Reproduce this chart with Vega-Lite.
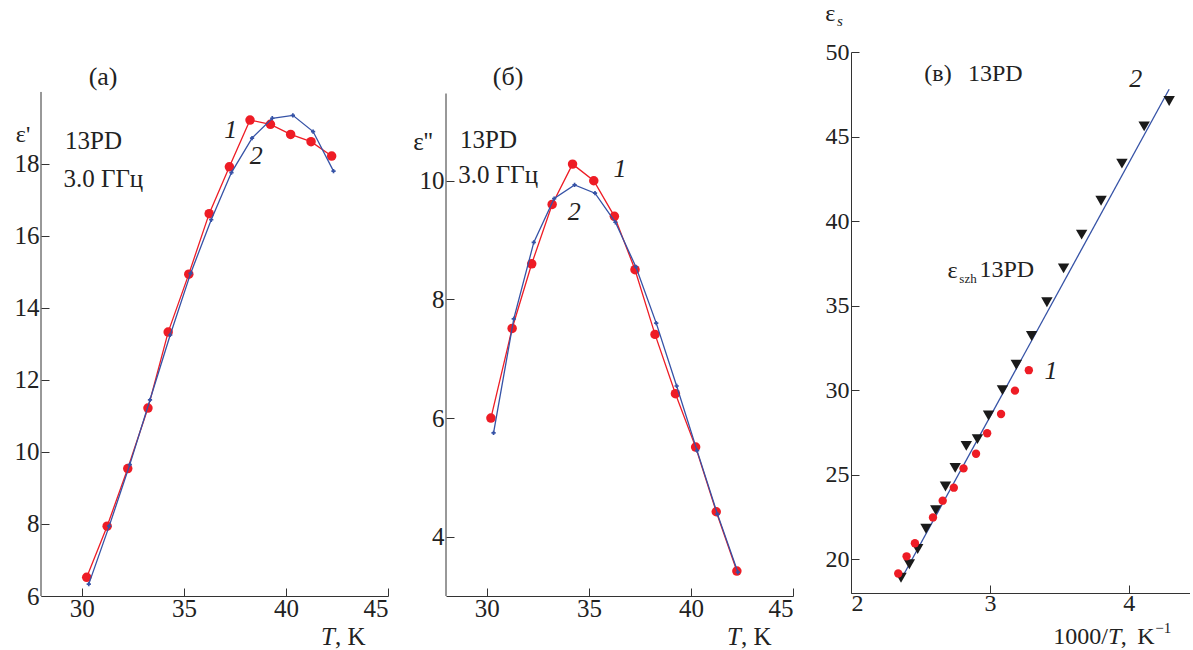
{
  "$schema": "https://vega.github.io/schema/vega-lite/v6.json",
  "background": "white",
  "padding": {"left": 14, "top": 1, "right": 0, "bottom": 0},
  "bounds": "flush",
  "spacing": 58,
  "config": {
    "font": "Liberation Serif",
    "view": {"stroke": null},
    "axis": {
      "grid": false,
      "title": null,
      "domainColor": "#333",
      "tickColor": "#333",
      "labelColor": "#222",
      "labelFont": "Liberation Serif",
      "labelFontSize": 25,
      "tickSize": -8,
      "labelPadding": 10,
      "format": "~g"
    },
    "text": {"font": "Liberation Serif", "fontSize": 25, "color": "#222"}
  },
  "datasets": {
    "one": [{}],
    "a_red": [
      {"T": 30.24, "v": 6.52}, {"T": 31.24, "v": 7.94}, {"T": 32.25, "v": 9.54}, {"T": 33.24, "v": 11.22},
      {"T": 34.23, "v": 13.33}, {"T": 35.24, "v": 14.94}, {"T": 36.24, "v": 16.62}, {"T": 37.23, "v": 17.92},
      {"T": 38.24, "v": 19.22}, {"T": 39.24, "v": 19.1}, {"T": 40.23, "v": 18.82}, {"T": 41.23, "v": 18.62},
      {"T": 42.24, "v": 18.22}
    ],
    "a_blue": [
      {"T": 30.34, "v": 6.33}, {"T": 31.34, "v": 7.94}, {"T": 32.35, "v": 9.65}, {"T": 33.34, "v": 11.45},
      {"T": 34.33, "v": 13.25}, {"T": 35.33, "v": 14.96}, {"T": 36.34, "v": 16.45}, {"T": 37.33, "v": 17.76},
      {"T": 38.34, "v": 18.72}, {"T": 39.33, "v": 19.27}, {"T": 40.34, "v": 19.35}, {"T": 41.33, "v": 18.9},
      {"T": 42.33, "v": 17.8}
    ],
    "b_red": [
      {"T": 30.2, "v": 6.0}, {"T": 31.24, "v": 7.51}, {"T": 32.2, "v": 8.6}, {"T": 33.2, "v": 9.6},
      {"T": 34.2, "v": 10.28}, {"T": 35.24, "v": 10.0}, {"T": 36.25, "v": 9.4}, {"T": 37.26, "v": 8.5},
      {"T": 38.24, "v": 7.41}, {"T": 39.24, "v": 6.41}, {"T": 40.23, "v": 5.51}, {"T": 41.24, "v": 4.42},
      {"T": 42.25, "v": 3.42}
    ],
    "b_blue": [
      {"T": 30.33, "v": 5.75}, {"T": 31.32, "v": 7.67}, {"T": 32.3, "v": 8.96}, {"T": 33.3, "v": 9.7},
      {"T": 34.3, "v": 9.93}, {"T": 35.3, "v": 9.79}, {"T": 36.3, "v": 9.3}, {"T": 37.3, "v": 8.55},
      {"T": 38.3, "v": 7.6}, {"T": 39.3, "v": 6.54}, {"T": 40.3, "v": 5.45}, {"T": 41.3, "v": 4.38},
      {"T": 42.3, "v": 3.4}
    ],
    "c_red": [
      {"x": 2.34, "e": 19.15}, {"x": 2.4, "e": 20.17}, {"x": 2.46, "e": 20.94}, {"x": 2.59, "e": 22.47},
      {"x": 2.66, "e": 23.46}, {"x": 2.74, "e": 24.23}, {"x": 2.81, "e": 25.37}, {"x": 2.9, "e": 26.24},
      {"x": 2.98, "e": 27.45}, {"x": 3.08, "e": 28.59}, {"x": 3.18, "e": 29.97}, {"x": 3.28, "e": 31.18}
    ],
    "c_black": [
      {"x": 2.36, "e": 18.9}, {"x": 2.42, "e": 19.7}, {"x": 2.48, "e": 20.6}, {"x": 2.54, "e": 21.8},
      {"x": 2.61, "e": 22.9}, {"x": 2.68, "e": 24.3}, {"x": 2.75, "e": 25.4}, {"x": 2.83, "e": 26.7},
      {"x": 2.91, "e": 27.1}, {"x": 2.99, "e": 28.5}, {"x": 3.09, "e": 30.0}, {"x": 3.19, "e": 31.5},
      {"x": 3.3, "e": 33.2}, {"x": 3.41, "e": 35.2}, {"x": 3.53, "e": 37.2}, {"x": 3.66, "e": 39.2},
      {"x": 3.8, "e": 41.2}, {"x": 3.95, "e": 43.4}, {"x": 4.11, "e": 45.6}, {"x": 4.29, "e": 47.1}
    ],
    "c_fit": [
      {"x": 2.36, "e": 18.8}, {"x": 4.29, "e": 47.8}
    ]
  },
  "hconcat": [
    {
      "width": 347,
      "height": 544,
      "layer": [
        {
          "data": {"name": "one"},
          "mark": {"type": "rule", "color": "#333", "strokeWidth": 1},
          "encoding": {
            "x": {"datum": 28, "type": "quantitative", "scale": {"domain": [28, 45], "nice": false, "zero": false}},
            "y": {"datum": 6, "type": "quantitative", "scale": {"domain": [6, 21.11], "nice": false, "zero": false}},
            "y2": {"datum": 20}
          }
        },
        {
          "data": {"name": "a_red"},
          "mark": {"type": "line", "color": "#ee1c25", "strokeWidth": 1.3, "point": {"filled": true, "size": 90, "color": "#ee1c25"}},
          "encoding": {
            "x": {"field": "T", "type": "quantitative", "axis": {"values": [30, 35, 40, 45], "labelPadding": 8}},
            "y": {"field": "v", "type": "quantitative", "axis": {"values": [6, 8, 10, 12, 14, 16, 18], "domain": false}}
          }
        },
        {
          "data": {"name": "a_blue"},
          "mark": {"type": "line", "color": "#3552a6", "strokeWidth": 1.3, "point": {"filled": true, "size": 18, "shape": "cross", "color": "#3552a6"}},
          "encoding": {
            "x": {"field": "T", "type": "quantitative"},
            "y": {"field": "v", "type": "quantitative"}
          }
        },
        {"data": {"name": "one"}, "mark": {"type": "text", "align": "center", "baseline": "middle", "fontSize": 26}, "encoding": {"x": {"datum": 31.04}, "y": {"datum": 20.42}, "text": {"value": "(a)"}}},
        {"data": {"name": "one"}, "mark": {"type": "text", "align": "center", "baseline": "middle", "fontSize": 24}, "encoding": {"x": {"datum": 27.12}, "y": {"datum": 18.8}, "text": {"value": "ε'"}}},
        {"data": {"name": "one"}, "mark": {"type": "text", "align": "left", "baseline": "middle"}, "encoding": {"x": {"datum": 29.18}, "y": {"datum": 18.65}, "text": {"value": "13PD"}}},
        {"data": {"name": "one"}, "mark": {"type": "text", "align": "left", "baseline": "middle"}, "encoding": {"x": {"datum": 29.1}, "y": {"datum": 17.58}, "text": {"value": "3.0 ГГц"}}},
        {"data": {"name": "one"}, "mark": {"type": "text", "align": "center", "baseline": "middle", "fontStyle": "italic", "fontSize": 26}, "encoding": {"x": {"datum": 37.3}, "y": {"datum": 18.94}, "text": {"value": "1"}}},
        {"data": {"name": "one"}, "mark": {"type": "text", "align": "center", "baseline": "middle", "fontStyle": "italic", "fontSize": 26}, "encoding": {"x": {"datum": 38.55}, "y": {"datum": 18.22}, "text": {"value": "2"}}},
        {"data": {"name": "one"}, "mark": {"type": "text", "align": "right", "baseline": "middle", "fontStyle": "italic"}, "encoding": {"x": {"datum": 42.4}, "y": {"datum": 4.86}, "text": {"value": "T"}}},
        {"data": {"name": "one"}, "mark": {"type": "text", "align": "left", "baseline": "middle"}, "encoding": {"x": {"datum": 42.4}, "y": {"datum": 4.86}, "text": {"value": ", K"}}}
      ]
    },
    {
      "width": 347,
      "height": 544,
      "layer": [
        {
          "data": {"name": "one"},
          "mark": {"type": "rule", "color": "#333", "strokeWidth": 1},
          "encoding": {
            "x": {"datum": 28, "type": "quantitative", "scale": {"domain": [28, 45], "nice": false, "zero": false}},
            "y": {"datum": 3, "type": "quantitative", "scale": {"domain": [3, 12.17], "nice": false, "zero": false}},
            "y2": {"datum": 11.47}
          }
        },
        {
          "data": {"name": "b_red"},
          "mark": {"type": "line", "color": "#ee1c25", "strokeWidth": 1.3, "point": {"filled": true, "size": 90, "color": "#ee1c25"}},
          "encoding": {
            "x": {"field": "T", "type": "quantitative", "axis": {"values": [30, 35, 40, 45], "labelPadding": 8}},
            "y": {"field": "v", "type": "quantitative", "axis": {"values": [4, 6, 8, 10], "domain": false}}
          }
        },
        {
          "data": {"name": "b_blue"},
          "mark": {"type": "line", "color": "#3552a6", "strokeWidth": 1.3, "point": {"filled": true, "size": 18, "shape": "cross", "color": "#3552a6"}},
          "encoding": {
            "x": {"field": "T", "type": "quantitative"},
            "y": {"field": "v", "type": "quantitative"}
          }
        },
        {"data": {"name": "one"}, "mark": {"type": "text", "align": "center", "baseline": "middle", "fontSize": 26}, "encoding": {"x": {"datum": 31.04}, "y": {"datum": 11.75}, "text": {"value": "(б)"}}},
        {"data": {"name": "one"}, "mark": {"type": "text", "align": "center", "baseline": "middle"}, "encoding": {"x": {"datum": 26.87}, "y": {"datum": 10.66}, "text": {"value": "ε''"}}},
        {"data": {"name": "one"}, "mark": {"type": "text", "align": "left", "baseline": "middle"}, "encoding": {"x": {"datum": 28.69}, "y": {"datum": 10.68}, "text": {"value": "13PD"}}},
        {"data": {"name": "one"}, "mark": {"type": "text", "align": "left", "baseline": "middle"}, "encoding": {"x": {"datum": 28.6}, "y": {"datum": 10.1}, "text": {"value": "3.0 ГГц"}}},
        {"data": {"name": "one"}, "mark": {"type": "text", "align": "center", "baseline": "middle", "fontStyle": "italic", "fontSize": 26}, "encoding": {"x": {"datum": 36.53}, "y": {"datum": 10.2}, "text": {"value": "1"}}},
        {"data": {"name": "one"}, "mark": {"type": "text", "align": "center", "baseline": "middle", "fontStyle": "italic", "fontSize": 26}, "encoding": {"x": {"datum": 34.28}, "y": {"datum": 9.47}, "text": {"value": "2"}}},
        {"data": {"name": "one"}, "mark": {"type": "text", "align": "right", "baseline": "middle", "fontStyle": "italic"}, "encoding": {"x": {"datum": 42.45}, "y": {"datum": 2.31}, "text": {"value": "T"}}},
        {"data": {"name": "one"}, "mark": {"type": "text", "align": "left", "baseline": "middle"}, "encoding": {"x": {"datum": 42.45}, "y": {"datum": 2.31}, "text": {"value": ", K"}}}
      ]
    },
    {
      "width": 339,
      "height": 541,
      "layer": [
        {
          "data": {"name": "c_fit"},
          "mark": {"type": "line", "color": "#3552a6", "strokeWidth": 1.3},
          "encoding": {
            "x": {"field": "x", "type": "quantitative", "scale": {"domain": [2, 4.44], "nice": false, "zero": false}, "axis": {"values": [2, 3, 4], "labelPadding": 6, "format": "d", "labelFontSize": 24}},
            "y": {"field": "e", "type": "quantitative", "scale": {"domain": [18, 50], "nice": false, "zero": false}, "axis": {"values": [20, 25, 30, 35, 40, 45, 50], "labelFontSize": 24}}
          }
        },
        {
          "data": {"name": "c_black"},
          "mark": {"type": "point", "shape": "triangle-down", "filled": true, "size": 130, "color": "#1a1a1a", "opacity": 1},
          "encoding": {
            "x": {"field": "x", "type": "quantitative"},
            "y": {"field": "e", "type": "quantitative"}
          }
        },
        {
          "data": {"name": "c_red"},
          "mark": {"type": "point", "shape": "circle", "filled": true, "size": 70, "color": "#ee1c25", "opacity": 1},
          "encoding": {
            "x": {"field": "x", "type": "quantitative"},
            "y": {"field": "e", "type": "quantitative"}
          }
        },
        {"data": {"name": "one"}, "mark": {"type": "text", "align": "center", "baseline": "middle", "fontSize": 24}, "encoding": {"x": {"datum": 1.85}, "y": {"datum": 52.25}, "text": {"value": "ε"}}},
        {"data": {"name": "one"}, "mark": {"type": "text", "align": "left", "baseline": "middle", "fontStyle": "italic", "fontSize": 15}, "encoding": {"x": {"datum": 1.9}, "y": {"datum": 51.85}, "text": {"value": "s"}}},
        {"data": {"name": "one"}, "mark": {"type": "text", "align": "center", "baseline": "middle", "fontSize": 24}, "encoding": {"x": {"datum": 2.626}, "y": {"datum": 48.71}, "text": {"value": "(в)"}}},
        {"data": {"name": "one"}, "mark": {"type": "text", "align": "left", "baseline": "middle", "fontSize": 24}, "encoding": {"x": {"datum": 2.842}, "y": {"datum": 48.71}, "text": {"value": "13PD"}}},
        {"data": {"name": "one"}, "mark": {"type": "text", "align": "center", "baseline": "middle", "fontStyle": "italic", "fontSize": 26}, "encoding": {"x": {"datum": 4.05}, "y": {"datum": 48.41}, "text": {"value": "2"}}},
        {"data": {"name": "one"}, "mark": {"type": "text", "align": "left", "baseline": "middle", "fontSize": 24}, "encoding": {"x": {"datum": 2.695}, "y": {"datum": 37.05}, "text": {"value": "ε"}}},
        {"data": {"name": "one"}, "mark": {"type": "text", "align": "left", "baseline": "middle", "fontSize": 13}, "encoding": {"x": {"datum": 2.78}, "y": {"datum": 36.6}, "text": {"value": "szh"}}},
        {"data": {"name": "one"}, "mark": {"type": "text", "align": "left", "baseline": "middle", "fontSize": 24}, "encoding": {"x": {"datum": 2.925}, "y": {"datum": 37.1}, "text": {"value": "13PD"}}},
        {"data": {"name": "one"}, "mark": {"type": "text", "align": "center", "baseline": "middle", "fontStyle": "italic", "fontSize": 26}, "encoding": {"x": {"datum": 3.439}, "y": {"datum": 31.14}, "text": {"value": "1"}}},
        {"data": {"name": "one"}, "mark": {"type": "text", "align": "right", "baseline": "middle", "fontSize": 24}, "encoding": {"x": {"datum": 3.849}, "y": {"datum": 15.4}, "text": {"value": "1000/"}}},
        {"data": {"name": "one"}, "mark": {"type": "text", "align": "left", "baseline": "middle", "fontStyle": "italic", "fontSize": 24}, "encoding": {"x": {"datum": 3.849}, "y": {"datum": 15.4}, "text": {"value": "T"}}},
        {"data": {"name": "one"}, "mark": {"type": "text", "align": "left", "baseline": "middle", "fontSize": 24}, "encoding": {"x": {"datum": 3.942}, "y": {"datum": 15.4}, "text": {"value": ","}}},
        {"data": {"name": "one"}, "mark": {"type": "text", "align": "left", "baseline": "middle", "fontSize": 24}, "encoding": {"x": {"datum": 4.06}, "y": {"datum": 15.4}, "text": {"value": "K"}}},
        {"data": {"name": "one"}, "mark": {"type": "text", "align": "left", "baseline": "middle", "fontSize": 15}, "encoding": {"x": {"datum": 4.19}, "y": {"datum": 15.95}, "text": {"value": "−1"}}}
      ]
    }
  ]
}
